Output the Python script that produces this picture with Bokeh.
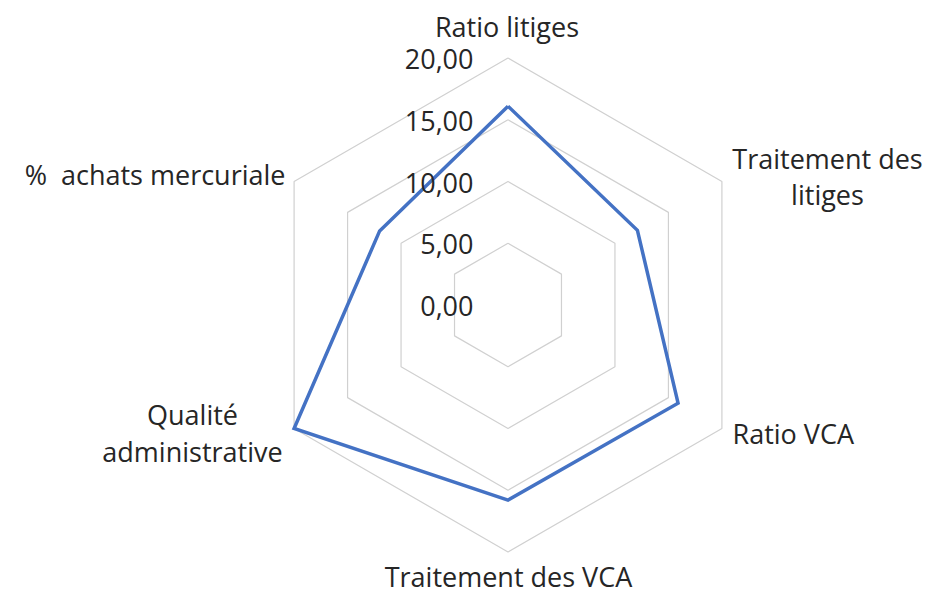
import math
from bokeh.plotting import figure
from bokeh.models import Range1d
from bokeh.core.properties import value
from bokeh.embed import file_html
from bokeh.resources import INLINE

# ---------------- data ----------------
categories = [
    "Ratio litiges",
    "Traitement des\nlitiges",
    "Ratio VCA",
    "Traitement des VCA",
    "Qualité\nadministrative",
    "%\u00a0 achats mercuriale",
]
values = [16.1, 12.1, 15.9, 15.8, 20.0, 12.0]
ring_values = [5, 10, 15, 20]
tick_values = [0, 5, 10, 15, 20]
tick_labels = ["0,00", "5,00", "10,00", "15,00", "20,00"]

# ---------------- layout ----------------
W, H = 928, 594
CX, CY = 507.5, 304.5          # chart centre in canvas pixels (from top-left)
R_MAX_PX = 247.0
V_MAX = 20.0
K = R_MAX_PX / V_MAX           # pixels per value unit

FONT = "Open Sans"
FONT_SIZE = "27px"
TEXT_COLOR = "#262626"
GRID_COLOR = "#D0D0D0"
SERIES_COLOR = "#4472C4"
TEXT_SHIFT_PX = 9.0            # compensate baseline offset of svg text

# label anchors: (dx px, first-baseline dy px (up positive), align)
LABEL_LAYOUT = [
    (-1.0, 269.5, "center"),
    (319.5, 137.8, "center"),
    (224.5, -137.2, "left"),
    (0.5, -280.5, "center"),
    (-315.5, -118.5, "center"),
    (-222.5, 121.2, "right"),
]
LINE_GAP_PX = 36.5
TICK_DX_PX = -34.5
TICK_DY_PX = -10.0

p = figure(
    width=W, height=H,
    output_backend="svg", toolbar_location=None,
    x_range=Range1d(-CX / K, (W - CX) / K),
    y_range=Range1d(-(H - CY) / K, CY / K),
    min_border=0,
)
p.axis.visible = False
p.grid.visible = False
p.outline_line_color = None
p.background_fill_color = "white"
p.border_fill_color = "white"

n = len(categories)
angles = [math.pi / 2 - i * 2 * math.pi / n for i in range(n)]

# grid rings (hexagons)
ring_xs, ring_ys = [], []
for rv in ring_values:
    xs = [rv * math.cos(a) for a in angles] + [rv * math.cos(angles[0])]
    ys = [rv * math.sin(a) for a in angles] + [rv * math.sin(angles[0])]
    ring_xs.append(xs)
    ring_ys.append(ys)
p.multi_line(ring_xs, ring_ys, line_color=GRID_COLOR, line_width=1.2)

# series
sx = [v * math.cos(a) for v, a in zip(values, angles)]
sy = [v * math.sin(a) for v, a in zip(values, angles)]
sx.append(sx[0])
sy.append(sy[0])
p.line(sx, sy, line_color=SERIES_COLOR, line_width=3.5, line_join="miter")

# tick labels along the top spoke
p.text(
    x=[TICK_DX_PX / K] * len(tick_values),
    y=[tv + (TICK_DY_PX + TEXT_SHIFT_PX) / K for tv in tick_values],
    text=tick_labels,
    text_align="right", text_baseline="alphabetic",
    text_font=value(FONT), text_font_size=FONT_SIZE, text_color=TEXT_COLOR,
)

# category labels
groups = {}
for cat, (dx, dy, align) in zip(categories, LABEL_LAYOUT):
    for j, line in enumerate(cat.split("\n")):
        g = groups.setdefault(align, {"x": [], "y": [], "t": []})
        g["x"].append(dx / K)
        g["y"].append((dy + TEXT_SHIFT_PX - j * LINE_GAP_PX) / K)
        g["t"].append(line)
for align, g in groups.items():
    p.text(
        x=g["x"], y=g["y"], text=g["t"],
        text_align=align, text_baseline="alphabetic",
        text_font=value(FONT), text_font_size=FONT_SIZE, text_color=TEXT_COLOR,
    )

open("out.html", "w").write(file_html(p, INLINE))
